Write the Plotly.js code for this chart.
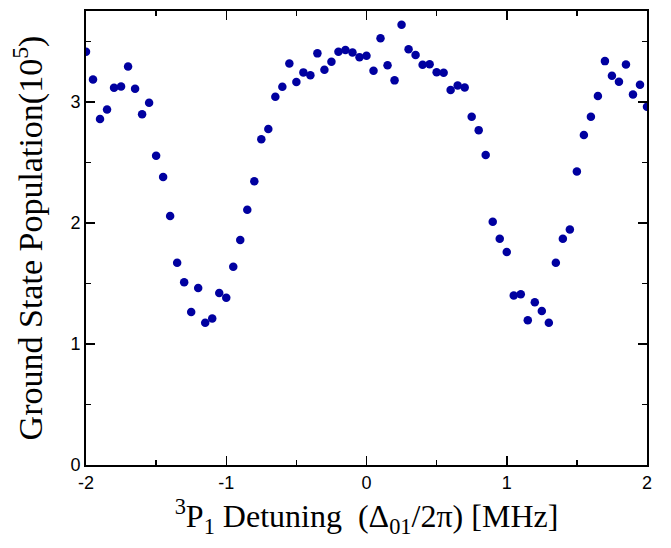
<!DOCTYPE html>
<html>
<head>
<meta charset="utf-8">
<script src="https://cdn.plot.ly/plotly-3.0.1.min.js"></script>
<style>html,body{margin:0;padding:0;background:#fff;}#chart{width:671px;height:548px;}</style>
</head>
<body>
<div id="chart"></div>
<script>
// Detuning (MHz)
var detuning = [-2.00,-1.95,-1.90,-1.85,-1.80,-1.75,-1.70,-1.65,-1.60,-1.55,-1.50,-1.45,-1.40,-1.35,-1.30,-1.25,-1.20,-1.15,-1.10,-1.05,-1.00,
  -0.95,-0.90,-0.85,-0.80,-0.75,-0.70,-0.65,-0.60,-0.55,-0.50,-0.45,-0.40,-0.35,-0.30,-0.25,-0.20,-0.15,-0.10,-0.05,0.00,
  0.05,0.10,0.15,0.20,0.25,0.30,0.35,0.40,0.45,0.50,0.55,0.60,0.65,0.70,0.75,0.80,0.85,0.90,0.95,1.00,
  1.05,1.10,1.15,1.20,1.25,1.30,1.35,1.40,1.45,1.50,1.55,1.60,1.65,1.70,1.75,1.80,1.85,1.90,1.95,2.00];
// Ground state population (10^5)
var population = [3.413,3.185,2.857,2.937,3.116,3.127,3.292,3.107,2.898,2.992,2.554,2.378,2.056,1.671,1.509,1.263,1.462,1.175,1.211,1.420,1.382,
  1.638,1.858,2.108,2.343,2.690,2.775,3.041,3.124,3.317,3.163,3.243,3.220,3.400,3.264,3.330,3.413,3.427,3.408,3.369,3.380,
  3.256,3.524,3.301,3.177,3.636,3.435,3.386,3.306,3.311,3.245,3.240,3.097,3.135,3.119,2.876,2.766,2.560,2.009,1.869,1.759,
  1.401,1.410,1.195,1.344,1.272,1.175,1.671,1.869,1.946,2.425,2.725,2.876,3.047,3.336,3.215,3.165,3.309,3.061,3.140,2.959];
var xTicks = [-2,-1,0,1,2];
var xTickText = ['-2','-1','0','1','2'];
var yTicks = [0,1,2,3];
var yTickText = ['0','1','2','3'];

var trace = {
  x: detuning, y: population, type: 'scatter', mode: 'markers',
  marker: {color: 'rgb(0,0,160)', size: 8.5},
  cliponaxis: true, showlegend: false
};
var axisCommon = {
  showline: true, linecolor: '#000', linewidth: 2, mirror: 'allticks',
  ticks: 'inside', ticklen: 9, tickwidth: 1.5, tickcolor: '#000',
  showgrid: false, zeroline: false,
  tickfont: {family: 'Liberation Sans, Arial, sans-serif', size: 18, color: '#000'}
};
var layout = {
  width: 671, height: 548,
  margin: {l: 86, r: 24, t: 11, b: 83},
  paper_bgcolor: '#fff', plot_bgcolor: '#fff',
  xaxis: Object.assign({}, axisCommon, {
    range: [-2, 2], tickvals: xTicks, ticktext: xTickText,
    minor: {dtick: 0.5, tick0: 0, ticks: 'inside', ticklen: 5, tickwidth: 1.5, tickcolor: '#000'},
    title: {text: '<sup>3</sup>P<sub>1</sub> Detuning  (Δ<sub>01</sub>/2π) [MHz]', standoff: 13,
      font: {family: 'Liberation Serif, Times New Roman, serif', size: 32, color: '#000'}}
  }),
  yaxis: Object.assign({}, axisCommon, {
    range: [0, 3.75], tickvals: yTicks, ticktext: yTickText,
    minor: {dtick: 0.5, tick0: 0, ticks: 'inside', ticklen: 5, tickwidth: 1.5, tickcolor: '#000'},
    title: {text: 'Ground State Population(10<sup>5</sup>)', standoff: 17,
      font: {family: 'Liberation Serif, Times New Roman, serif', size: 34, color: '#000'}}
  })
};
Plotly.newPlot('chart', [trace], layout, {displayModeBar: false, staticPlot: true});
</script>
</body>
</html>
